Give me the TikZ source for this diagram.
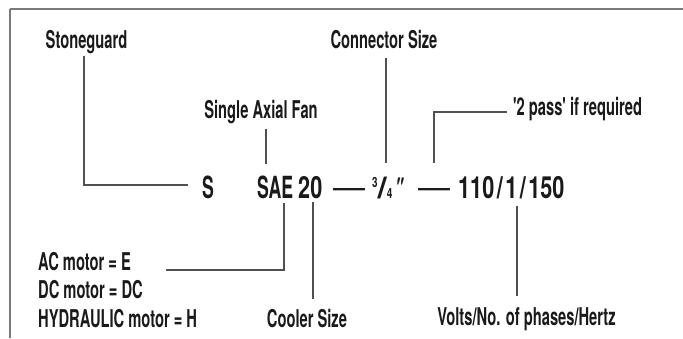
\documentclass[tikz,border=0pt]{standalone}
\usepackage{fontspec}
\setmainfont{TeX Gyre Heros}
\newfontfamily\labfont{TeX Gyre Heros}[FakeStretch=0.6]
\newfontfamily\codeL{TeX Gyre Heros}[FakeStretch=0.58]
\newfontfamily\codeN{TeX Gyre Heros}[FakeStretch=0.71]
\newfontfamily\dashfont{TeX Gyre Heros}
\newfontfamily\slashfont{TeX Gyre Heros}[FakeStretch=1.1]
\newfontfamily\dqfont{TeX Gyre Heros}[FakeSlant=0.2,FakeStretch=0.8]
\definecolor{ink}{HTML}{1A1A1A}
\definecolor{wire}{HTML}{505050}
\definecolor{frame}{HTML}{7A7A7A}
\begin{document}
\begin{tikzpicture}[x=1pt,y=-1pt,
  lab/.style={inner sep=0pt,text=ink,font=\labfont\bfseries\fontsize{24.5}{28}\selectfont},
  code/.style={inner sep=0pt,text=ink,anchor=base west,font=\bfseries\fontsize{30.5}{32}\selectfont},
  wireline/.style={draw=wire,line width=1.4pt}]
\useasboundingbox (0,0) rectangle (683,338);
\fill[white] (0,0) rectangle (683,338);
% frame
\draw[frame,line width=2pt] (9.5,9) -- (683,9);
\draw[frame,line width=1.5pt] (10,9) -- (10,338);

% labels
\node[lab,anchor=base] (stone) at (86.5,48) {Stoneguard};
\node[lab,anchor=base] (fan) at (261,118) {Single Axial Fan};
\node[lab,anchor=base] (conn) at (384,48) {Connector Size};
\node[lab,anchor=base west] (pass) at (513,115) {'2 pass' if required};
\node[lab,anchor=base west] (ac) at (38,270) {AC motor = E};
\node[lab,anchor=base west] (dc) at (38,298) {DC motor = DC};
\node[lab,anchor=base west] (hyd) at (38,327) {HYDRAULIC motor = H};
\node[lab,anchor=base] (cooler) at (307,327) {Cooler Size};
\node[lab,anchor=base] (volts) at (526.5,325) {Volts/No. of phases/Hertz};

% code line
\node[code] (S) at (202,198) {\codeL S};
\node[code] (SAE) at (257,198) {\codeL SAE\kern5pt\codeN 20};
\node[code] (dashA) at (333,198) {\dashfont\mdseries\fontsize{32}{32}\selectfont —};
\node[code] (frac) at (372,198) {\codeN\raisebox{11pt}{\fontsize{14}{14}\selectfont 3}{\slashfont\fontsize{30}{30}\selectfont /}{\fontsize{14}{14}\selectfont 4}\kern0.5pt{\dqfont\mdseries\fontsize{29}{29}\selectfont"}};
\node[code] (dashB) at (418,198) {\dashfont\mdseries\fontsize{32}{32}\selectfont —};
\node[code] (num) at (458,198) {\codeN 110\kern2.5pt/\kern2.5pt1\kern2.5pt/\kern2.5pt150};

% connectors
\path (S.base west) ++(-14,-13) coordinate (sL);
\draw[wireline] (stone.south) ++(-2.5,2) |- (sL);
\draw[wireline] (fan.south) ++(5,5) -- ++(0,35);
\draw[wireline] (conn.south) ++(2,10) -- ++(0,105);
\draw[wireline] (pass.base west) ++(-6,-3) -| ++(-73,51);
\draw[wireline] (ac.base west) ++(128,0) -| ++(118,-67);
\draw[wireline] (cooler.north) ++(6,-10) -- ++(0,-97);
\draw[wireline] (volts.north) ++(-9.5,-11) -- ++(0,-90);
\end{tikzpicture}
\end{document}
